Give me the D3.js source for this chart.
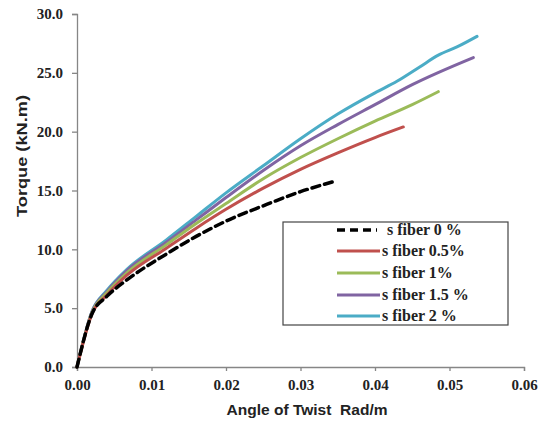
<!DOCTYPE html>
<html>
<head>
<meta charset="utf-8">
<script src="https://cdn.jsdelivr.net/npm/d3@7"></script>
<style>
  html, body { margin: 0; padding: 0; background: #fff; }
  svg { display: block; }
</style>
</head>
<body>
<svg id="chart" width="549" height="423"></svg>
<script>
// ---- data ----
const seriesNames = ["s fiber 0 %", "s fiber 0.5%", "s fiber 1%", "s fiber 1.5 %", "s fiber 2 %"];
const seriesColors = ["#000000", "#c0504d", "#9bbb59", "#8064a2", "#4bacc6"];

const fiber0x = [0, 0.002, 0.004, 0.0067, 0.012, 0.016, 0.020, 0.025, 0.030, 0.0347];
const fiber0y = [0, 4.5, 6.0, 7.4, 9.6, 11.1, 12.4, 13.7, 14.9, 15.8];

const fiber05x = [0, 0.002, 0.004, 0.0067, 0.012, 0.016, 0.020, 0.025, 0.030, 0.035, 0.040, 0.0438];
const fiber05y = [0, 4.5, 6.1, 7.8, 10.1, 11.8, 13.4, 15.2, 16.8, 18.2, 19.5, 20.4];

const fiber1x = [0, 0.002, 0.004, 0.0067, 0.012, 0.016, 0.020, 0.025, 0.030, 0.035, 0.040, 0.045, 0.0485];
const fiber1y = [0, 4.6, 6.3, 8.0, 10.4, 12.2, 13.9, 16.0, 17.8, 19.4, 20.9, 22.3, 23.4];

const fiber15x = [0, 0.002, 0.004, 0.0067, 0.012, 0.016, 0.020, 0.025, 0.030, 0.035, 0.040, 0.045, 0.0532];
const fiber15y = [0, 4.7, 6.4, 8.2, 10.6, 12.5, 14.4, 16.7, 18.8, 20.6, 22.3, 24.0, 26.3];

const fiber2x = [0, 0.002, 0.004, 0.0067, 0.012, 0.016, 0.020, 0.025, 0.030, 0.035, 0.040, 0.043, 0.046, 0.0485, 0.051, 0.0537];
const fiber2y = [0, 4.7, 6.5, 8.3, 10.8, 12.8, 14.8, 17.1, 19.4, 21.5, 23.3, 24.3, 25.5, 26.5, 27.2, 28.1];

const xTicks = [0, 0.01, 0.02, 0.03, 0.04, 0.05, 0.06];
const yTicks = [0, 5, 10, 15, 20, 25, 30];
const xTitle = "Angle of Twist  Rad/m";
const yTitle = "Torque (kN.m)";

const seriesX = [fiber0x, fiber05x, fiber1x, fiber15x, fiber2x];
const seriesY = [fiber0y, fiber05y, fiber1y, fiber15y, fiber2y];

// ---- layout ----
(function () {
const svg = d3.select("#chart");
const mLeft = 77, mRight = 524, mTop = 14, mBottom = 367;
const x = d3.scaleLinear().domain([0, 0.06]).range([mLeft, mRight]);
const y = d3.scaleLinear().domain([0, 30]).range([mBottom, mTop]);
const axisColor = "#868686";

// axes
const xAxis = svg.append("g").attr("transform", `translate(0,${mBottom})`)
  .call(d3.axisBottom(x).tickValues(xTicks).tickFormat(d3.format(".2f")).tickSizeOuter(0).tickSize(4).tickPadding(8));
const yAxis = svg.append("g").attr("transform", `translate(${mLeft},0)`)
  .call(d3.axisLeft(y).tickValues(yTicks).tickFormat(d3.format(".1f")).tickSizeOuter(0).tickSize(5).tickPadding(9));

[xAxis, yAxis].forEach(g => {
  g.select(".domain").attr("stroke", axisColor).attr("stroke-width", 1.3);
  g.selectAll(".tick line").attr("stroke", axisColor).attr("stroke-width", 1.3);
  g.selectAll(".tick text")
    .attr("fill", "#222")
    .style("font-family", "'Liberation Serif', 'Times New Roman', serif")
    .style("font-weight", "bold")
    .style("font-size", "15px");
});

// titles
svg.append("text")
  .attr("x", 307).attr("y", 415)
  .attr("text-anchor", "middle")
  .attr("textLength", 161).attr("lengthAdjust", "spacingAndGlyphs")
  .style("white-space", "pre")
  .style("font-family", "'Liberation Sans', Arial, sans-serif")
  .style("font-weight", "bold").style("font-size", "15px").attr("fill", "#222")
  .text(xTitle);

svg.append("text")
  .attr("transform", "translate(27,156) rotate(-90)")
  .attr("text-anchor", "middle")
  .attr("textLength", 122).attr("lengthAdjust", "spacingAndGlyphs")
  .style("font-family", "'Liberation Sans', Arial, sans-serif")
  .style("font-weight", "bold").style("font-size", "15px").attr("fill", "#222")
  .text(yTitle);

// lines
const line = d3.line().x(d => x(d[0])).y(d => y(d[1])).curve(d3.curveMonotoneX);
const order = [4, 3, 2, 1, 0];
order.forEach(i => {
  const pts = seriesX[i].map((v, j) => [v, seriesY[i][j]]);
  svg.append("path")
    .datum(pts)
    .attr("d", line)
    .attr("fill", "none")
    .attr("stroke", seriesColors[i])
    .attr("stroke-width", i === 0 ? 3.5 : 3)
    .attr("stroke-dasharray", i === 0 ? "8,5" : null)
    .attr("stroke-linecap", "round")
    .attr("stroke-linejoin", "round");
});

// legend
const lg = svg.append("g");
lg.append("rect")
  .attr("x", 283).attr("y", 222).attr("width", 225).attr("height", 103)
  .attr("fill", "#fff").attr("stroke", "#444").attr("stroke-width", 1.2);
const rowY = [230, 251, 273, 295, 316];
seriesNames.forEach((name, i) => {
  lg.append("line")
    .attr("x1", 337).attr("x2", i === 0 ? 377 : 380)
    .attr("y1", rowY[i]).attr("y2", rowY[i])
    .attr("stroke", seriesColors[i])
    .attr("stroke-width", i === 0 ? 3.5 : 3)
    .attr("stroke-dasharray", i === 0 ? "8,5" : null);
  lg.append("text")
    .attr("x", i === 0 ? 387 : 382).attr("y", rowY[i] + 5)
    .style("white-space", "pre")
    .style("font-family", "'Liberation Serif', 'Times New Roman', serif")
    .style("font-weight", "bold").style("font-size", "16px").attr("fill", "#222")
    .text(name);
});
})();
</script>
</body>
</html>
